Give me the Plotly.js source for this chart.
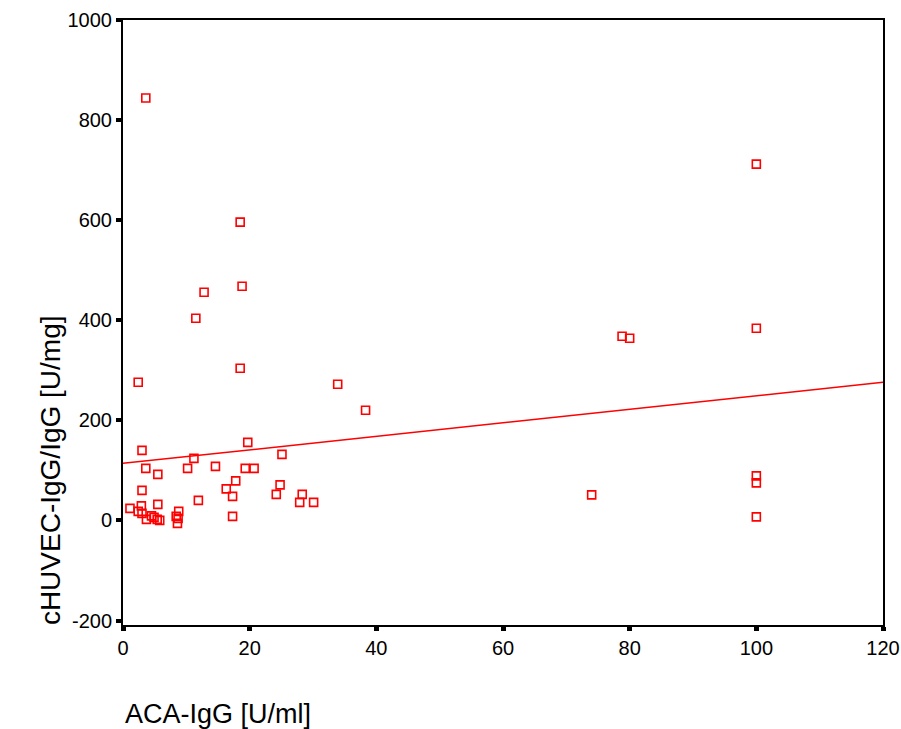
<!DOCTYPE html>
<html>
<head>
<meta charset="utf-8">
<script src="https://cdn.plot.ly/plotly-3.0.1.min.js"></script>
<style>html,body{margin:0;padding:0;background:#fff;}#chart{width:901px;height:729px;}</style>
</head>
<body>
<div id="chart"></div>
<script>
// ACA-IgG [U/ml]
const acaIgG = [3.6, 18.5, 18.8, 12.8, 11.5, 18.5, 2.4, 33.9, 38.3, 19.7,
  3.0, 11.2, 25.1, 3.6, 5.5, 10.2, 14.6, 19.3, 20.7, 17.8,
  16.3, 17.3, 11.9, 24.8, 24.2, 28.3, 27.9, 30.1, 17.3, 3.0,
  5.5, 1.1, 2.9, 2.4, 3.0, 4.5, 3.7, 4.9, 5.4, 5.8,
  8.8, 8.4, 8.7, 8.6, 78.8, 80.0, 100, 100, 100, 74.0,
  100, 100];
// cHUVEC-IgG/IgG [U/mg]
const chuvecIgG = [844, 596, 468, 456, 404, 304, 276, 272, 220, 156,
  140, 124, 132, 104, 92, 104, 108, 104, 104, 79,
  63, 48, 40, 71, 52, 52, 36, 36, 8, 60,
  32, 24, 29, 18, 14, 9, 2, 6, 2, 0,
  18, 8, 4, -6, 368, 364, 384, 89, 75, 51,
  7, 712];
// fitted line end points
const fitX = [0, 120];
const fitY = [114, 276];

const xTicks = [0, 20, 40, 60, 80, 100, 120];
const yTicks = [-200, 0, 200, 400, 600, 800, 1000];

const red = '#ff0000';
const fontFam = '"Liberation Sans", Arial, sans-serif';

const traces = [
  {x: acaIgG, y: chuvecIgG, type: 'scatter', mode: 'markers',
   marker: {symbol: 'square-open', size: 8, color: red, line: {color: red, width: 1.6}},
   hoverinfo: 'x+y', showlegend: false, cliponaxis: false},
  {x: fitX, y: fitY, type: 'scatter', mode: 'lines',
   line: {color: red, width: 1.5}, showlegend: false}
];

const layout = {
  width: 901, height: 729,
  margin: {l: 123, r: 18, t: 20, b: 104, pad: 0},
  paper_bgcolor: '#fff', plot_bgcolor: '#fff',
  font: {family: fontFam, color: '#000', size: 20},
  xaxis: {range: [0, 120], tickvals: xTicks, ticktext: xTicks.map(String),
    showgrid: false, zeroline: false, showline: true, linecolor: '#000', linewidth: 2,
    mirror: true, ticks: 'outside', ticklen: 4, tickwidth: 5, tickcolor: '#000',
    tickfont: {size: 20, family: fontFam, color: '#000'}},
  yaxis: {range: [-209, 1000], tickvals: yTicks, ticktext: yTicks.map(String),
    showgrid: false, zeroline: false, showline: true, linecolor: '#000', linewidth: 2,
    mirror: true, ticks: 'outside', ticklen: 5, tickwidth: 4, tickcolor: '#000',
    tickfont: {size: 20, family: fontFam, color: '#000'}},
  annotations: [
    {text: 'ACA-IgG [U/ml]', xref: 'paper', yref: 'paper', x: 0, y: -0.147,
     xanchor: 'left', yanchor: 'middle', showarrow: false,
     font: {size: 27, family: fontFam, color: '#000'}},
    {text: 'cHUVEC-IgG/IgG [U/mg]', xref: 'paper', yref: 'paper', x: 0, y: 0.256,
     xanchor: 'center', yanchor: 'middle', xshift: -73, textangle: -90, showarrow: false,
     font: {size: 28, family: fontFam, color: '#000'}}
  ]
};

Plotly.newPlot('chart', traces, layout, {displayModeBar: false, staticPlot: true});
</script>
</body>
</html>
